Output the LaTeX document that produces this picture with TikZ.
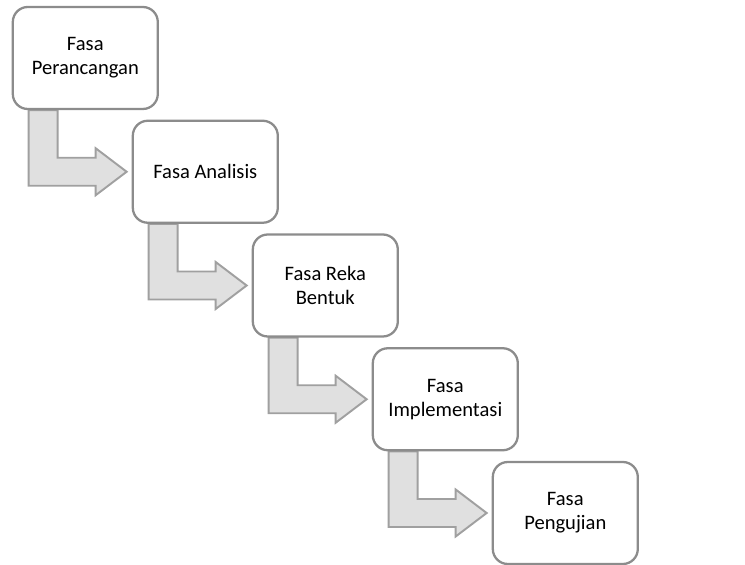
\documentclass[tikz,border=0pt]{standalone}
\usepackage{fontspec}
\setmainfont{Carlito}
\usetikzlibrary{positioning,calc,backgrounds}

\definecolor{boxline}{RGB}{140,140,140}
\definecolor{arrowline}{RGB}{160,160,160}
\definecolor{arrowfill}{RGB}{224,224,224}

\begin{document}
\begin{tikzpicture}[node distance=2.4cm,on grid]
            \tikzstyle{phase}=[draw=boxline, line width=1.3pt, fill=white,
                rounded corners=0.3cm, minimum width=2.9cm, minimum height=2.04cm,
                align=center, font=\fontsize{11.7}{13.8}\selectfont]
            \tikzstyle{bentarrow}=[draw=arrowline, line width=1.1pt, fill=arrowfill]

            \useasboundingbox (-1.706,1.16) rectangle (13.194,-10.14);

            \node[phase] (f1)                                   {Fasa\\Perancangan};
            \node[phase] (f2) [below right=2.275cm and 2.4cm of f1] {Fasa Analisis};
            \node[phase] (f3) [below right=2.275cm and 2.4cm of f2] {Fasa Reka\\Bentuk};
            \node[phase] (f4) [below right=2.275cm and 2.4cm of f3] {Fasa\\Implementasi};
            \node[phase] (f5) [below right=2.275cm and 2.4cm of f4] {Fasa\\Pengujian};

            \begin{scope}[on background layer]
                \foreach \a/\b in {f1/f2,f2/f3,f3/f4,f4/f5}
                    \draw[bentarrow]
                        ($(\a.south west)+(0.34,0)$)
                        |- ($(\b.west)+(-0.72,-0.28)$) -- ++(0,-0.19)
                        -- ($(\b.west)+(-0.1,0)$)
                        -- ($(\b.west)+(-0.72,0.47)$) -- ++(0,-0.19)
                        -| ($(\a.south west)+(0.92,0)$) -- cycle;
            \end{scope}
\end{tikzpicture}
\end{document}
